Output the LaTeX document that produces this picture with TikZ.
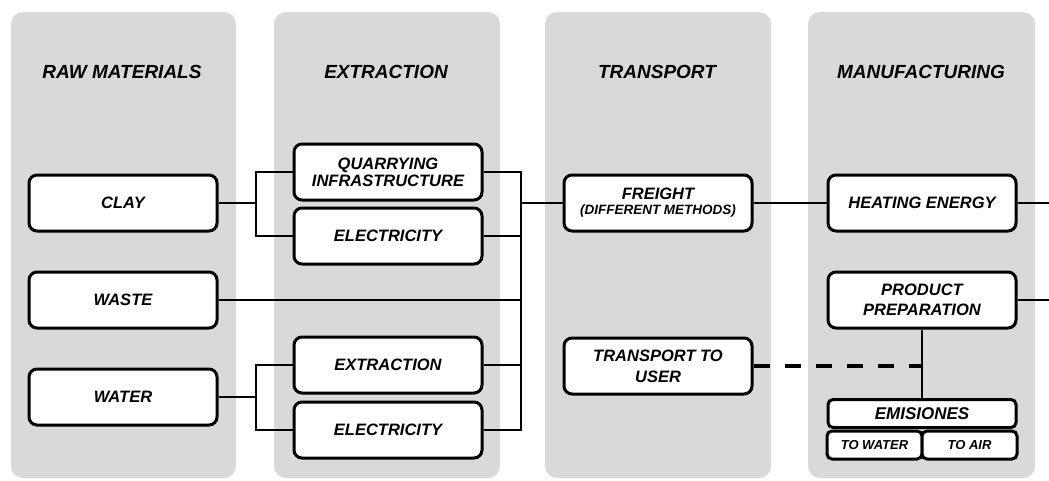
\documentclass[tikz,border=0pt]{standalone}
\usepackage{fontspec}
\setmainfont{Liberation Sans}
\usetikzlibrary{positioning}

\definecolor{lanegray}{RGB}{217,217,217}

\tikzset{
    lane/.style={fill=lanegray, draw=none, rounded corners=12pt},
    lanetitle/.style={font=\fontsize{19}{22}\selectfont\bfseries\itshape},
    stepbox/.style={draw, line width=3pt, fill=white, rounded corners=8pt,
        minimum width=188pt, minimum height=56pt, align=center, inner sep=1pt,
        font=\fontsize{16.5}{18}\selectfont\bfseries\itshape},
    smallbox/.style={stepbox, rounded corners=5pt, minimum height=28pt},
    link/.style={line width=2.5pt},
}

\begin{document}
\begin{tikzpicture}[x=1pt, y=-1pt]
    \useasboundingbox (0,0) rectangle (1049,480);

    % grey lanes
    \fill [lane] (11,12) rectangle (236,478);
    \fill [lane] (274,12) rectangle (500,478);
    \fill [lane] (545,12) rectangle (771,478);
    \fill [lane] (808,12) rectangle (1035,478);

    \node [lanetitle] (rawtitle) at (122,72) {RAW MATERIALS};
    \node [lanetitle] (extitle) at (386,72) {EXTRACTION};
    \node [lanetitle] (trtitle) at (657,72) {TRANSPORT};
    \node [lanetitle] (mftitle) at (921,72) {MANUFACTURING};

    % raw materials
    \node [stepbox] (clay) at (123,203) {CLAY};
    \node [stepbox] (waste) at (123,300) {WASTE};
    \node [stepbox] (water) at (123,397) {WATER};

    % extraction
    \node [stepbox, font=\fontsize{16.5}{17}\selectfont\bfseries\itshape] (quarry) at (388,172) {QUARRYING\\INFRASTRUCTURE};
    \node [stepbox] (elecA) at (388,236) {ELECTRICITY};
    \node [stepbox] (extract) at (388,365) {EXTRACTION};
    \node [stepbox] (elecB) at (388,430) {ELECTRICITY};

    % transport
    \node [stepbox, font=\fontsize{16.5}{15}\selectfont\bfseries\itshape] (freight) at (658,203)
        {FREIGHT\\{\fontsize{13.5}{15}\selectfont(DIFFERENT METHODS)}};
    \node [stepbox, font=\fontsize{16.5}{21}\selectfont\bfseries\itshape] (touser) at (658,366) {TRANSPORT TO\\USER};

    % manufacturing
    \node [stepbox] (heating) at (922,203) {HEATING ENERGY};
    \node [stepbox, font=\fontsize{16.5}{20}\selectfont\bfseries\itshape] (prep) at (922,300) {PRODUCT\\PREPARATION};
    \node [smallbox, font=\fontsize{17}{18}\selectfont\bfseries\itshape] (emis) at (922,413.5) {EMISIONES};
    \node [smallbox, minimum width=95pt, font=\fontsize{13}{14}\selectfont\bfseries\itshape] (towater) at (874.5,445) {TO WATER};
    \node [smallbox, minimum width=95pt, font=\fontsize{13}{14}\selectfont\bfseries\itshape] (toair) at (969.5,445) {TO AIR};

    % connectors
    \coordinate (clayfork) at (256,203);
    \coordinate (waterfork) at (256,397);
    \coordinate (bus) at (521,203);
    \coordinate (heatout) at (1052,203);
    \coordinate (prepout) at (1052,300);

    \draw [link] (clay.east) -- (clayfork) |- (quarry.west);
    \draw [link] (clayfork) |- (elecA.west);
    \draw [link] (water.east) -- (waterfork) |- (extract.west);
    \draw [link] (waterfork) |- (elecB.west);

    \draw [link] (quarry.east) -| (bus) |- (elecB.east);
    \draw [link] (elecA.east) -- (elecA.east -| bus);
    \draw [link] (waste.east) -- (waste.east -| bus);
    \draw [link] (extract.east) -- (extract.east -| bus);
    \draw [link] (bus) -- (freight.west);

    \draw [link] (freight.east) -- (heating.west);
    \draw [link] (heating.east) -- (heatout);
    \draw [link] (prep.east) -- (prepout);
    \draw [link] (prep.south) -- (emis.north);
    \draw [line width=4.5pt, dash pattern=on 16pt off 15pt] (touser.east) -- (touser.east -| prep.south);
\end{tikzpicture}
\end{document}
